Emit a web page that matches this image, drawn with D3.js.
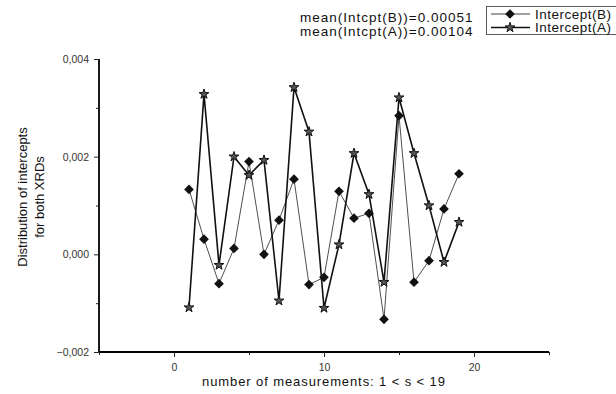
<!DOCTYPE html>
<html>
<head>
<meta charset="utf-8">
<script src="https://cdn.jsdelivr.net/npm/d3@7"></script>
<style>
  body { margin: 0; background: #fff; }
  svg { display: block; font-family: "Liberation Sans", Arial, sans-serif; }
</style>
</head>
<body>
<div id="chart"></div>
<script>
// measurement numbers
const measurements = [1, 2, 3, 4, 5, 6, 7, 8, 9, 10, 11, 12, 13, 14, 15, 16, 17, 18, 19];
// Intercept(B) - diamonds
const interceptB = [0.00133, 0.00031, -0.00060, 0.00012, 0.00190, 0.00000, 0.00070, 0.00154, -0.00062,
  -0.00047, 0.00129, 0.00074, 0.00084, -0.00133, 0.00284, -0.00057, -0.00013, 0.00093, 0.00165];
// Intercept(A) - stars
const interceptA = [-0.00109, 0.00328, -0.00022, 0.00200, 0.00162, 0.00193, -0.00095, 0.00342, 0.00251,
  -0.00110, 0.00020, 0.00207, 0.00123, -0.00057, 0.00321, 0.00207, 0.00100, -0.00016, 0.00066];
const xTicks = [0, 10, 20];
const xMinor = [-5, 5, 15, 25];
const yTicks = [-0.002, 0.000, 0.002, 0.004];
const yMinor = [-0.001, 0.001, 0.003];
const meanLabels = ["mean(Intcpt(B))=0.00051", "mean(Intcpt(A))=0.00104"];
const seriesNames = ["Intercept(B)", "Intercept(A)"];

const width = 616, height = 394;
const svg = d3.select("#chart").append("svg")
  .attr("width", width).attr("height", height);

const x = d3.scaleLinear().domain([-5, 25]).range([99, 549]);
const y = d3.scaleLinear().domain([-0.002, 0.004]).range([352, 59]);

// axes
const fmt = d => d3.format(".3f")(d).replace(".", ",");
const xAxis = svg.append("g").attr("transform", "translate(0," + y(-0.002) + ")")
  .call(d3.axisBottom(x).tickValues(xTicks).tickSize(5).tickPadding(7).tickFormat(d3.format("d")));
svg.append("g").attr("transform", "translate(0," + y(-0.002) + ")")
  .call(d3.axisBottom(x).tickValues(xMinor).tickSize(3).tickFormat(""))
  .select(".domain").remove();
const yAxis = svg.append("g").attr("transform", "translate(" + x(-5) + ",0)")
  .call(d3.axisLeft(y).tickValues(yTicks).tickSize(5).tickPadding(5).tickFormat(fmt));
svg.append("g").attr("transform", "translate(" + x(-5) + ",0)")
  .call(d3.axisLeft(y).tickValues(yMinor).tickSize(3).tickFormat(""))
  .select(".domain").remove();
xAxis.select(".domain").attr("d", "M" + x(-5) + ",0H" + x(25)).attr("stroke-width", 1.8);
yAxis.select(".domain").attr("d", "M0," + y(0.004) + "V" + y(-0.002)).attr("stroke-width", 1.8);
svg.selectAll(".tick line").attr("stroke", "#222");
svg.selectAll(".tick text").attr("font-size", 10.5).attr("fill", "#333");

// axis titles
svg.append("text").attr("x", 324).attr("y", 386).attr("text-anchor", "middle")
  .attr("font-size", 13).attr("letter-spacing", 0.9).attr("fill", "#111")
  .text("number of measurements: 1 < s < 19");
const yt = svg.append("text").attr("transform", "translate(27,197) rotate(-90)")
  .attr("text-anchor", "middle").attr("font-size", 13).attr("fill", "#111");
yt.append("tspan").attr("x", 0).attr("dy", 0).text("Distribution of intercepts");
yt.append("tspan").attr("x", 0).attr("dy", 17).text("for both XRDs");

// lines
const line = d3.line().x((d, i) => x(measurements[i])).y(d => y(d));
svg.append("path").datum(interceptB).attr("d", line)
  .attr("fill", "none").attr("stroke", "#222").attr("stroke-width", 0.8);
svg.append("path").datum(interceptA).attr("d", line)
  .attr("fill", "none").attr("stroke", "#111").attr("stroke-width", 1.6);

const diamond = d3.symbol().type(d3.symbolDiamond2).size(60);
const star = d3.symbol().type(d3.symbolStar).size(30);

svg.append("g").selectAll("path").data(interceptB).join("path")
  .attr("transform", (d, i) => "translate(" + x(measurements[i]) + "," + y(d) + ")")
  .attr("d", diamond).attr("fill", "#111");
svg.append("g").selectAll("path").data(interceptA).join("path")
  .attr("transform", (d, i) => "translate(" + x(measurements[i]) + "," + y(d) + ")")
  .attr("d", star).attr("fill", "#555").attr("stroke", "#111").attr("stroke-width", 1);

// mean annotations
svg.append("g").selectAll("text").data(meanLabels).join("text")
  .attr("x", 300).attr("y", (d, i) => 22 + i * 14)
  .attr("font-size", 13.5).attr("letter-spacing", 1).attr("fill", "#111")
  .text(d => d);

// legend
const lg = svg.append("g");
lg.append("rect").attr("x", 486.5).attr("y", 6.5).attr("width", 140).attr("height", 28)
  .attr("fill", "none").attr("stroke", "#333").attr("stroke-width", 0.8);
const legendMarks = [diamond, star];
seriesNames.forEach((name, i) => {
  const ly = 14 + i * 13.5;
  lg.append("line").attr("x1", 491).attr("x2", 530).attr("y1", ly).attr("y2", ly)
    .attr("stroke", "#111").attr("stroke-width", i === 0 ? 0.8 : 1.6);
  lg.append("path").attr("transform", "translate(510," + ly + ")").attr("d", legendMarks[i])
    .attr("fill", i === 0 ? "#111" : "#555").attr("stroke", i === 0 ? "none" : "#111").attr("stroke-width", 1);
  lg.append("text").attr("x", 535).attr("y", ly + 4.5).attr("font-size", 13.5)
    .attr("letter-spacing", 0.5).attr("fill", "#111").text(name);
});
</script>
</body>
</html>
